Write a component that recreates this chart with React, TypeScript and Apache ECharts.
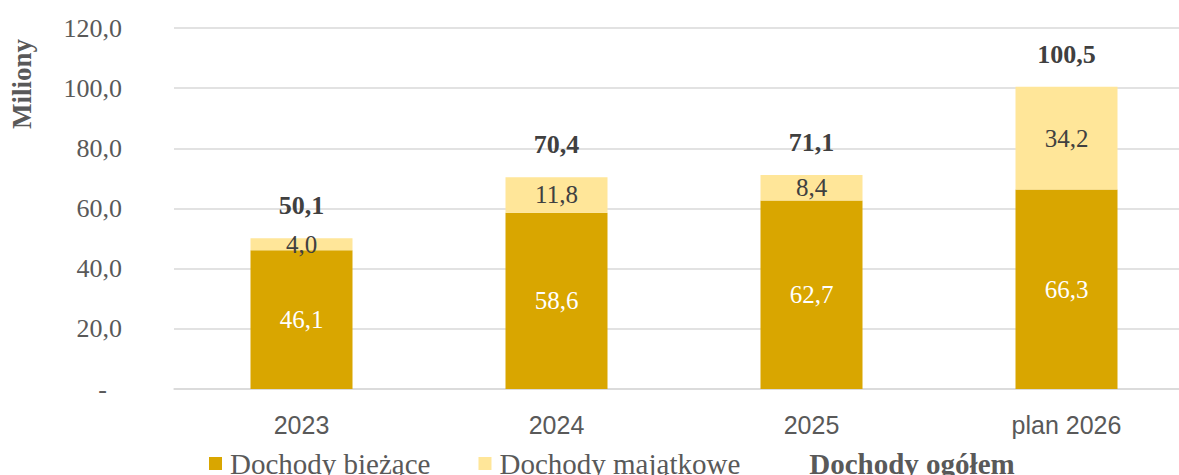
import React, { useEffect, useRef } from "react";
import * as echarts from "echarts";

const categories = ["2023", "2024", "2025", "plan 2026"];
const biezace = [46.1, 58.6, 62.7, 66.3];
const majatkowe = [4.0, 11.8, 8.4, 34.2];
const ogolem = [50.1, 70.4, 71.1, 100.5];

const SERIF = "'Liberation Serif', 'Times New Roman', serif";
const SANS = "'Liberation Sans', Arial, sans-serif";
const fmt = (v: number) => v.toFixed(1).replace(".", ",");

export default function App() {
  const ref = useRef<HTMLDivElement>(null);
  useEffect(() => {
    if (!ref.current) return;
    const chart = echarts.init(ref.current, undefined, { renderer: "svg" });
    chart.setOption({
      animation: false,
      grid: { left: 174, top: 28, right: 0, bottom: 86, containLabel: false },
      legend: {
        left: 204,
        top: 444,
        itemWidth: 13,
        itemHeight: 13,
        itemGap: 48,
        textStyle: { fontFamily: SERIF, fontSize: 29, color: "#595959", padding: [0, 0, 0, 3] },
        data: [
          { name: "Dochody bieżące", icon: "rect" },
          { name: "Dochody majątkowe", icon: "rect" },
          {
            name: "Dochody ogółem",
            icon: "none",
            textStyle: { fontWeight: "bold", fontFamily: SERIF, fontSize: 29, color: "#595959" },
          },
        ],
      },
      graphic: [
        {
          type: "text",
          x: 22,
          y: 84,
          rotation: Math.PI / 2,
          style: {
            text: "Miliony",
            font: `bold 27px ${SERIF}`,
            fill: "#595959",
            textAlign: "center",
            textVerticalAlign: "middle",
          },
        },
      ],
      xAxis: {
        type: "category",
        data: categories,
        axisTick: { show: false },
        axisLine: { lineStyle: { color: "#D9D9D9", width: 1.5 } },
        axisLabel: { fontFamily: SANS, fontSize: 25, color: "#595959", margin: 23 },
      },
      yAxis: {
        type: "value",
        min: 0,
        max: 120,
        interval: 20,
        axisLine: { show: false },
        axisTick: { show: false },
        splitLine: { lineStyle: { color: "#D9D9D9", width: 1.5 } },
        axisLabel: {
          margin: 52,
          fontFamily: SERIF,
          fontSize: 26,
          color: "#595959",
          formatter: (v: number) => (v === 0 ? "{d|-}" : fmt(v)),
          rich: { d: { fontFamily: SERIF, fontSize: 26, color: "#595959", padding: [0, 15, 0, 0] } },
        },
      },
      series: [
        {
          name: "Dochody bieżące",
          type: "bar",
          stack: "total",
          barWidth: "40%",
          data: biezace,
          itemStyle: { color: "#D9A600" },
          label: {
            show: true,
            position: "inside",
            formatter: (p: any) => fmt(p.value),
            fontFamily: SERIF,
            fontSize: 25,
            color: "#FFFFFF",
          },
        },
        {
          name: "Dochody majątkowe",
          type: "bar",
          stack: "total",
          barWidth: "40%",
          data: majatkowe,
          itemStyle: { color: "#FFE699" },
          label: {
            show: true,
            position: "inside",
            formatter: (p: any) => fmt(p.value),
            fontFamily: SERIF,
            fontSize: 25,
            color: "#404040",
          },
        },
        {
          name: "Dochody ogółem",
          type: "line",
          data: ogolem,
          symbol: "circle",
          symbolSize: 1,
          showSymbol: true,
          lineStyle: { width: 0, opacity: 0 },
          itemStyle: { color: "rgba(0,0,0,0)" },
          label: {
            show: true,
            position: "top",
            distance: 19,
            formatter: (p: any) => fmt(p.value),
            fontFamily: SERIF,
            fontSize: 26,
            fontWeight: "bold",
            color: "#404040",
          },
        },
      ],
    });
    return () => chart.dispose();
  }, []);
  return (
    <div
      style={{
        position: "absolute",
        left: 0,
        top: 0,
        width: 1179,
        height: 475,
        overflow: "hidden",
        background: "#fff",
      }}
    >
      <div ref={ref} style={{ width: 1194, height: 475 }} />
    </div>
  );
}
